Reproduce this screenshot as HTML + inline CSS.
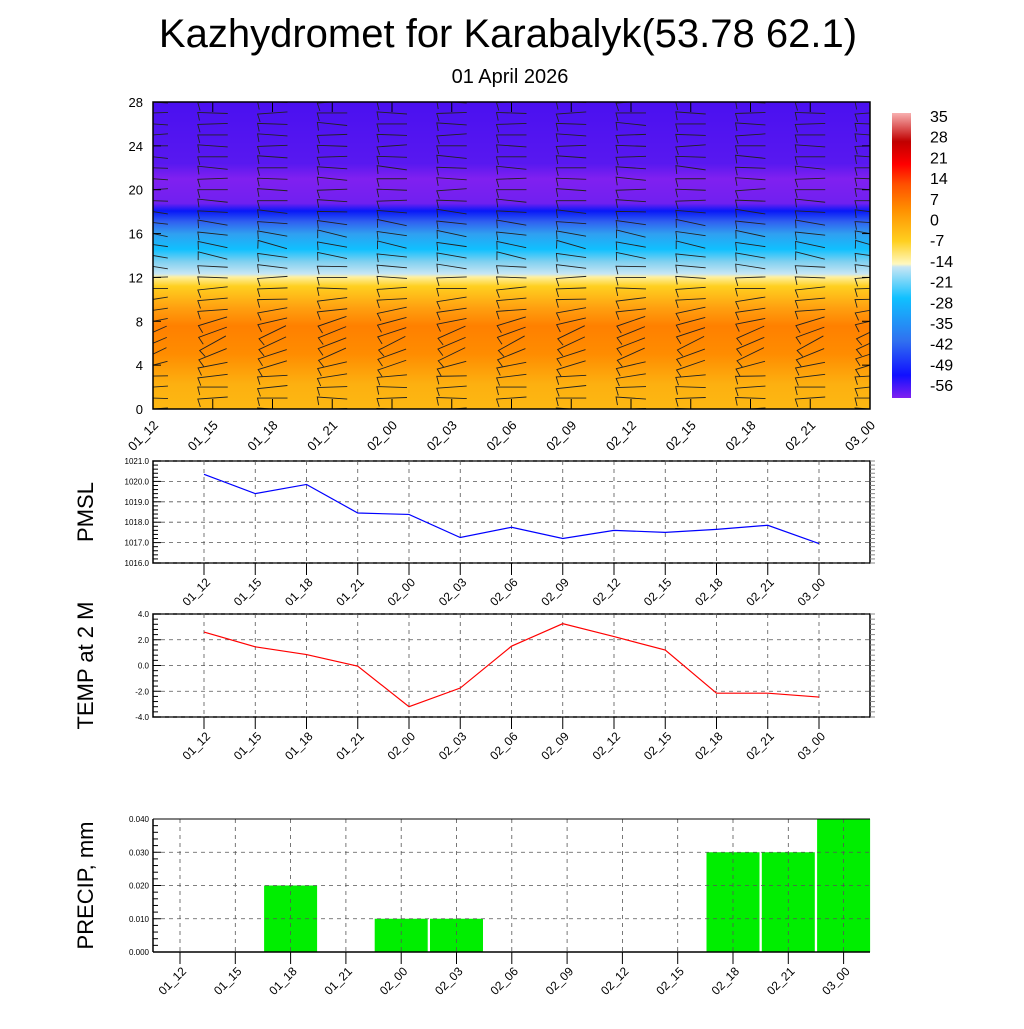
<!DOCTYPE html>
<html><head><meta charset="utf-8"><style>
body{margin:0;background:#fff;width:1024px;height:1024px;overflow:hidden}
svg text{font-family:"Liberation Sans",sans-serif}
</style></head><body>
<svg id="s" width="1024" height="1024" xmlns="http://www.w3.org/2000/svg">
<defs>
<linearGradient id="tg" x1="0" y1="1" x2="0" y2="0">
<stop offset="0" stop-color="#fdb812"/><stop offset="0.08" stop-color="#fdb010"/>
<stop offset="0.18" stop-color="#ff8c00"/><stop offset="0.27" stop-color="#ff8000"/>
<stop offset="0.33" stop-color="#ffa010"/><stop offset="0.40" stop-color="#ffd020"/>
<stop offset="0.43" stop-color="#fff0a0"/><stop offset="0.44" stop-color="#c8e6f4"/>
<stop offset="0.48" stop-color="#80d0f0"/><stop offset="0.52" stop-color="#10c0ff"/>
<stop offset="0.57" stop-color="#30a0f0"/><stop offset="0.61" stop-color="#3060f0"/>
<stop offset="0.645" stop-color="#0818f8"/><stop offset="0.67" stop-color="#7020f0"/>
<stop offset="0.75" stop-color="#8020f0"/><stop offset="0.80" stop-color="#5818f0"/>
<stop offset="1" stop-color="#4a10f0"/>
</linearGradient>
<linearGradient id="cg" x1="0" y1="1" x2="0" y2="0">
<stop offset="0" stop-color="#8020f0"/><stop offset="0.08" stop-color="#1010ff"/>
<stop offset="0.2" stop-color="#3070f0"/><stop offset="0.35" stop-color="#10c0ff"/>
<stop offset="0.46" stop-color="#c8e6f4"/><stop offset="0.47" stop-color="#fff8c0"/>
<stop offset="0.55" stop-color="#ffd020"/><stop offset="0.66" stop-color="#ff9000"/>
<stop offset="0.75" stop-color="#ff5000"/><stop offset="0.82" stop-color="#ff0000"/>
<stop offset="0.9" stop-color="#c00000"/><stop offset="1" stop-color="#f8b0b0"/>
</linearGradient>
<clipPath id="cp"><rect x="153" y="102" width="717" height="307"/></clipPath>
</defs>
<text x="508" y="47" font-size="40" text-anchor="middle">Kazhydromet for Karabalyk(53.78 62.1)</text>
<text x="510" y="83" font-size="20" text-anchor="middle">01 April 2026</text>
<rect x="153" y="102" width="717" height="307" fill="url(#tg)"/>
<g id="barbs" stroke="#222" stroke-width="0.9" fill="none" clip-path="url(#cp)"></g>
<rect x="153" y="102" width="717" height="307" fill="none" stroke="#000" stroke-width="1.5"/>
<rect x="892" y="113" width="19" height="285" fill="url(#cg)"/>
<g id="cb" font-size="16"></g>
<g id="top-axes"></g>
<g id="pmsl"></g><g id="temp"></g><g id="precip"></g>
</svg>
<script>
const NS="http://www.w3.org/2000/svg";
const svg=document.getElementById('s');
const times=["01_12","01_15","01_18","01_21","02_00","02_03","02_06","02_09","02_12","02_15","02_18","02_21","03_00"];
const heightTicks=[0,4,8,12,16,20,24,28];
const cbLabels=["35","28","21","14","7","0","-7","-14","-21","-28","-35","-42","-49","-56"];
const pmslValues=[1020.35,1019.4,1019.85,1018.45,1018.38,1017.25,1017.75,1017.2,1017.6,1017.5,1017.65,1017.85,1016.95];
const pmslTicks=[1016,1017,1018,1019,1020,1021];
const tempValues=[2.6,1.45,0.85,-0.05,-3.2,-1.75,1.5,3.25,2.25,1.2,-2.15,-2.15,-2.45];
const tempTicks=[-4,-2,0,2,4];
const precipValues=[0,0,0.02,0,0.01,0.01,0,0,0,0,0.03,0.03,0.04];
const precipTicks=[0,0.01,0.02,0.03,0.04];
const barbLevels=[0,1,2,3,4,5,6,7,8,9,10,11,12,13,14,15,16,17,18,19,20,21,22,23,24,25,26,27,28];
const barbDirs=[270,270,268,265,255,248,245,248,255,262,265,268,270,275,280,282,280,278,275,272,270,272,274,272,270,270,272,270,270];

function el(tag,attrs,parent,text){const e=document.createElementNS(NS,tag);for(const k in attrs)e.setAttribute(k,attrs[k]);if(text!==undefined)e.textContent=text;(parent||svg).appendChild(e);return e;}

const tx=i=>153+i*717/12, ty=h=>409-h*307/28;
const ta=document.getElementById('top-axes');
heightTicks.forEach(h=>{
  const t=el('text',{x:143,y:ty(h)+5,'font-size':13,'text-anchor':'end'},ta,String(h));
  
  
  el('line',{x1:153,x2:161,y1:ty(h),y2:ty(h),stroke:'#000'},ta);
  el('line',{x1:870,x2:862,y1:ty(h),y2:ty(h),stroke:'#000'},ta);
});
times.forEach((s,i)=>{
  el('line',{x1:tx(i),x2:tx(i),y1:409,y2:399,stroke:'#000'},ta);
  el('line',{x1:tx(i),x2:tx(i),y1:102,y2:112,stroke:'#000'},ta);
  const t=el('text',{x:0,y:0,'font-size':13,'text-anchor':'end',transform:`translate(${tx(i)+6},${426}) rotate(-45)`},ta,s);
  
  
});
const bg=document.getElementById('barbs');
times.forEach((s,i)=>{
  barbLevels.forEach((h,j)=>{
    const x=tx(i),y=ty(h);const a=(barbDirs[j]+((i*7+j*3)%5-2)*2)*Math.PI/180;
    const dx=Math.sin(a),dy=-Math.cos(a);
    const L=15;
    const xa=x-dx*L,ya=y-dy*L,xb=x+dx*L,yb=y+dy*L;
    const b=el('path',{d:`M${xa} ${ya}L${xb} ${yb}l${dy*8-dx*2} ${-dx*8-dy*2}`},bg);
    
    
  });
});
const cb=document.getElementById('cb');
cbLabels.forEach((l,k)=>{
  const t=el('text',{x:930,y:122+k*20.7},cb,l);
  
  
});

function linePanel(gid,top,bot,ticks,vals,color,title){
  const g=document.getElementById(gid);
  const x0=153,x1=870,lo=ticks[0],hi=ticks[ticks.length-1];
  const X=i=>204+i*51.25, Y=v=>bot-(v-lo)/(hi-lo)*(bot-top);
  el('rect',{x:x0,y:top,width:x1-x0,height:bot-top,fill:'#fff',stroke:'#000','stroke-width':1.5},g);
  ticks.forEach(v=>{
    el('line',{x1:x0,x2:x1,y1:Y(v),y2:Y(v),stroke:'#555','stroke-dasharray':'4,4','stroke-width':0.8},g);
    const t=el('text',{x:x0-4,y:Y(v)+3,'font-size':8,'text-anchor':'end'},g,v.toFixed(1));
    
    
  });
  for(let k=0;k<=(ticks.length-1)*5;k++){const yy=bot-k*(bot-top)/((ticks.length-1)*5);const w=k%5==0?8:5;el('line',{x1:x0,x2:x0+w,y1:yy,y2:yy,stroke:'#000'},g);el('line',{x1:x1,x2:x1+5,y1:yy,y2:yy,stroke:'#888'},g);}
  times.forEach((s,i)=>{
    el('line',{x1:X(i),x2:X(i),y1:top,y2:bot,stroke:'#555','stroke-dasharray':'4,4','stroke-width':0.8},g);
    el('line',{x1:X(i),x2:X(i),y1:bot,y2:bot+12,stroke:'#000'},g);
    const t=el('text',{x:0,y:0,'font-size':12,'text-anchor':'end',transform:`translate(${X(i)+7},${bot+20}) rotate(-45)`},g,s);
    
    
  });
  const p=el('polyline',{points:vals.map((v,i)=>X(i)+','+Y(v)).join(' '),fill:'none',stroke:color,'stroke-width':1.2},g);
  
  
  const t=el('text',{x:0,y:0,'font-size':22,'text-anchor':'middle',transform:`translate(${93},${(top+bot)/2}) rotate(-90)`},g,title);
  
  
}
linePanel('pmsl',461,563,pmslTicks,pmslValues,'#0000ff','PMSL');
linePanel('temp',614,717,tempTicks,tempValues,'#ff0000','TEMP at 2 M');

(function(){
  const g=document.getElementById('precip');
  const top=819,bot=952,x0=153,x1=870,hi=0.04;
  const X=i=>180+i*55.3, Y=v=>bot-v/hi*(bot-top);
  el('rect',{x:x0,y:top,width:x1-x0,height:bot-top,fill:'#fff'},g);
  precipValues.forEach((v,i)=>{ if(v>0){
    const r=el('rect',{x:X(i)-26.5,y:Y(v),width:53,height:bot-Y(v),fill:'#00ee00'},g);
    
    
  }});
  precipTicks.forEach(v=>{
    el('line',{x1:x0,x2:x1,y1:Y(v),y2:Y(v),stroke:'#555','stroke-dasharray':'4,4','stroke-width':0.8},g);
    const t=el('text',{x:x0-4,y:Y(v)+3,'font-size':8,'text-anchor':'end'},g,v.toFixed(3));
    
    
  });
  for(let k=0;k<=20;k++){const yy=bot-k*(bot-top)/20;const w=k%5==0?8:5;el('line',{x1:x0,x2:x0+w,y1:yy,y2:yy,stroke:'#000'},g);}
  times.forEach((s,i)=>{
    el('line',{x1:X(i),x2:X(i),y1:top,y2:bot,stroke:'#555','stroke-dasharray':'4,4','stroke-width':0.8},g);
    el('line',{x1:X(i),x2:X(i),y1:bot,y2:bot+12,stroke:'#000'},g);
    const t=el('text',{x:0,y:0,'font-size':12,'text-anchor':'end',transform:`translate(${X(i)+7},${bot+20}) rotate(-45)`},g,s);
    
    
  });
  el('line',{x1:x0,x2:x0,y1:top,y2:bot,stroke:'#000','stroke-width':1.5},g);
  el('line',{x1:x0,x2:x1,y1:bot,y2:bot,stroke:'#000','stroke-width':1.5},g);
  el('line',{x1:x0,x2:x1,y1:top,y2:top,stroke:'#000','stroke-width':1},g);
  const t=el('text',{x:0,y:0,'font-size':22,'text-anchor':'middle',transform:`translate(${93},${(top+bot)/2}) rotate(-90)`},g,'PRECIP, mm');
  
  
})();
</script>
</body></html>
